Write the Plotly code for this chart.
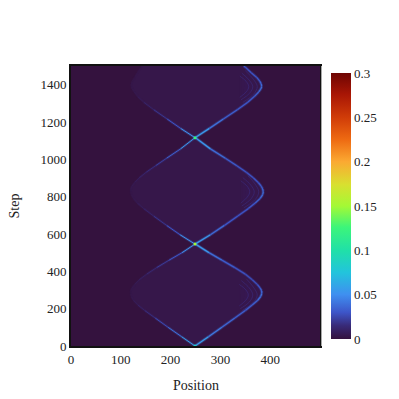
import plotly.graph_objects as go
from plotly.colors import sample_colorscale

# colours
colors = [[0, '#34123e'], [0.05, '#382a78'], [0.1, '#3d55c8'], [0.167, '#3f8ff0'], [0.25, '#22c4dc'],
          [0.333, '#20e0a8'], [0.42, '#3cf57a'], [0.5, '#a4f935'], [0.58, '#d8e030'], [0.667, '#fba932'],
          [0.75, '#ee6a12'], [0.833, '#d03c08'], [0.92, '#a81605'], [1, '#6e0503']]

bg_x = [0, 500]
bg_y = [0, 1500]
bg_z = [[0, 0], [0, 0]]

# curves: step, position, value
right1_step = [0, 50, 100, 150, 190, 220, 245, 265, 280, 295, 310, 330, 355, 385, 420, 460, 500, 546]
right1_pos = [249, 276, 303, 329, 350, 364, 375, 381, 383, 383, 380, 374, 364, 350, 329, 303, 277, 250]
right1_val = [0.065, 0.046, 0.038, 0.034, 0.032, 0.032, 0.035, 0.038, 0.038, 0.035, 0.032, 0.029, 0.027, 0.027, 0.03, 0.034, 0.042, 0.065]

left1_step = right1_step
left1_pos = [249, 222, 195, 169, 148, 134, 125, 121, 120, 120, 122, 128, 137, 152, 172, 197, 223, 249]
left1_val = [0.065, 0.046, 0.032, 0.02, 0.012, 0.008, 0.005, 0.004, 0.003, 0.003, 0.004, 0.005, 0.007, 0.011, 0.016, 0.025, 0.036, 0.065]

right2_step = [546, 596, 646, 696, 736, 766, 791, 811, 826, 841, 856, 876, 901, 931, 966, 1006, 1056, 1116]
right2_pos = [249, 280, 308, 335, 356, 370, 380, 385, 386, 385, 382, 376, 366, 352, 333, 310, 280, 250]
right2_val = [0.065, 0.042, 0.032, 0.029, 0.029, 0.032, 0.035, 0.038, 0.038, 0.035, 0.032, 0.03, 0.029, 0.029, 0.03, 0.034, 0.042, 0.065]

left2_step = right2_step
left2_pos = [249, 219, 192, 166, 146, 133, 125, 121, 120, 120, 122, 128, 137, 151, 170, 192, 220, 249]
left2_val = [0.065, 0.036, 0.024, 0.014, 0.009, 0.006, 0.004, 0.003, 0.003, 0.004, 0.005, 0.006, 0.009, 0.013, 0.018, 0.027, 0.04, 0.065]

right3_step = [1116, 1166, 1216, 1266, 1306, 1336, 1361, 1376, 1389, 1404, 1419, 1439, 1464, 1494, 1500]
right3_pos = [249, 278, 306, 334, 355, 368, 377, 381, 383, 382, 379, 373, 362, 350, 347]
right3_val = [0.065, 0.044, 0.035, 0.032, 0.03, 0.032, 0.035, 0.038, 0.038, 0.035, 0.032, 0.03, 0.029, 0.029, 0.029]

left3_step = right3_step
left3_pos = [249, 220, 193, 166, 146, 134, 127, 123, 121, 121, 123, 128, 133, 141, 143]
left3_val = [0.065, 0.036, 0.024, 0.014, 0.008, 0.005, 0.004, 0.003, 0.003, 0.003, 0.003, 0.003, 0.003, 0.003, 0.003]

lobes = [(right1_step, right1_pos, right1_val, left1_step, left1_pos, left1_val),
         (right2_step, right2_pos, right2_val, left2_step, left2_pos, left2_val),
         (right3_step, right3_pos, right3_val, left3_step, left3_pos, left3_val)]

# faint inner arcs near the right side of each lobe
fringe_steps = [[190, 230, 273, 316, 360], [200, 235, 273, 311, 350], [215, 245, 273, 301, 330],
                [740, 785, 826, 870, 912], [750, 790, 826, 862, 902], [765, 798, 826, 855, 885],
                [1305, 1350, 1389, 1430, 1475], [1318, 1355, 1389, 1424, 1462], [1332, 1362, 1389, 1417, 1446]]
fringe_pos = [[344, 365, 374, 366, 352], [340, 358, 365, 358, 342], [338, 351, 356, 351, 338],
              [347, 370, 377, 369, 355], [343, 362, 368, 361, 345], [341, 354, 359, 354, 341],
              [345, 367, 374, 366, 350], [341, 359, 365, 358, 343], [339, 352, 357, 352, 339]]

cross_step = [0, 546, 1116]
cross_pos = [249, 249, 249]
cross_val = [0.085, 0.15, 0.125]

cbar_ticks = [0, 0.05, 0.1, 0.15, 0.2, 0.25, 0.3]
cbar_text = ['0', '0.05', '0.1', '0.15', '0.2', '0.25', '0.3']
x_ticks = [0, 100, 200, 300, 400]
y_ticks = [0, 200, 400, 600, 800, 1000, 1200, 1400]

family = 'Liberation Serif, Times New Roman, serif'
tick_font = dict(family=family, size=13, color='#222222')
title_font = dict(family=family, size=14, color='#222222')

fig = go.Figure()
fig.add_trace(go.Heatmap(x=bg_x, y=bg_y, z=bg_z, zmin=0, zmax=0.3, colorscale=colors, zsmooth='best',
                         hoverinfo='skip',
                         colorbar=dict(x=1.044, xanchor='left', y=0.5, yanchor='middle', len=266, lenmode='pixels',
                                       thickness=20, thicknessmode='pixels', outlinewidth=0, xpad=0, ypad=0,
                                       tickmode='array', tickvals=cbar_ticks, ticktext=cbar_text,
                                       ticks='', tickfont=tick_font)))


def segments(steps, pos, vals, width, opacity):
    for i in range(len(steps) - 1):
        c = sample_colorscale(colors, (vals[i] + vals[i + 1]) / 2 / 0.3)[0]
        fig.add_trace(go.Scatter(x=pos[i:i + 2], y=steps[i:i + 2], mode='lines', opacity=opacity,
                                 line=dict(color=c, width=width), hoverinfo='skip'))


for rs, rp, rv, ls, lp, lv in lobes:
    fig.add_trace(go.Scatter(x=rp + lp[::-1], y=rs + ls[::-1], mode='lines', fill='toself', line=dict(width=0),
                             fillcolor='rgba(70,60,170,0.11)', hoverinfo='skip'))

for fs, fp in zip(fringe_steps, fringe_pos):
    fig.add_trace(go.Scatter(x=fp, y=fs, mode='lines', hoverinfo='skip', fill='toself',
                             fillcolor='rgba(70,60,170,0.025)',
                             line=dict(color='rgba(70,80,210,0.22)', width=1, shape='spline')))

for rs, rp, rv, ls, lp, lv in lobes:
    segments(rs, rp, rv, 3, 0.3)
    segments(rs, rp, rv, 1.3, 1)
    segments(ls, lp, lv, 2.5, 0.25)
    segments(ls, lp, lv, 1, 1)

fig.add_trace(go.Scatter(x=cross_pos, y=cross_step, mode='markers', hoverinfo='skip',
                         marker=dict(size=3, color=cross_val, cmin=0, cmax=0.3, colorscale=colors)))

fig.update_xaxes(range=[0, 500], tickvals=x_ticks, ticks='', showgrid=False, zeroline=False, showline=True, mirror=True,
                 linecolor='#111111', linewidth=2, tickfont=tick_font, automargin=False)
fig.update_yaxes(range=[0, 1500], tickvals=y_ticks, ticks='', showgrid=False, zeroline=False, showline=True, mirror=True,
                 linecolor='#111111', linewidth=2, tickfont=tick_font, automargin=False)
fig.add_annotation(text='Position', xref='paper', yref='paper', x=0.5, y=0, yshift=-49, showarrow=False, font=title_font)
fig.add_annotation(text='Step', xref='paper', yref='paper', x=0, y=0.5, xshift=-67, textangle=-90, showarrow=False, font=title_font)
fig.add_shape(type='line', xref='paper', yref='paper', x0=1.006, x1=1.006, y0=0, y1=1, line=dict(color='#aaaaaa', width=1))
fig.update_layout(width=399, height=399, margin=dict(l=63, r=87, t=58, b=61), showlegend=False,
                  font=title_font, paper_bgcolor='white', plot_bgcolor='white')

fig.write_html("out.html", config={'displayModeBar': False})
